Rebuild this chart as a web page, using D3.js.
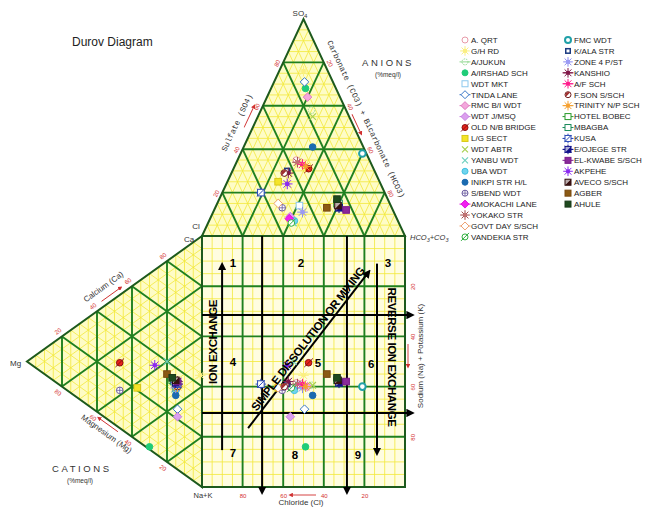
<!DOCTYPE html>
<html>
<head>
<meta charset="utf-8">
<script src="https://cdn.jsdelivr.net/npm/d3@7"></script>
<style>
  body { margin: 0; background: #fff; }
  svg { display: block; font-family: "Liberation Sans", Arial, sans-serif; }
</style>
</head>
<body>
<svg id="chart" width="660" height="507"></svg>
<script>
// ---- Sample sites and their ionic composition (% meq/l) ----
const sites = ["A. QRT","G/H RD","A/JUKUN","A/IRSHAD SCH","WDT MKT","TINDA LANE","RMC B/I WDT","WDT J/MSQ",
  "OLD N/B BRIDGE","L/G SECT","WDT ABTR","YANBU WDT","UBA WDT","INIKPI STR H/L","S/BEND WDT","AMOKACHI LANE",
  "YOKAKO STR","GOVT DAY S/SCH","VANDEKIA STR","FMC WDT","K/ALA STR","ZONE 4 P/ST","KANSHIO","A/F SCH",
  "F.SON S/SCH","TRINITY N/P SCH","HOTEL BOBEC","MBAGBA","KUSA","E/OJEGE STR","EL-KWABE S/SCH","AKPEHE",
  "AVECO S/SCH","AGBER","AHULE"];

// anions
const chloride    = [36,12,17,15,45,14,16,52,32,50,18,52,51,25,54,53,36,55,53, 2,43,45,43,34,45,33,26,25,61,26,23,46,26,32,25];
const sulfate     = [35,76,58,68,14,71,64, 9,31,25,55, 6, 7,41,13, 8,34,15, 6,38,30,11,29,33,29,32,15,15,20,13,12,24,14,13,17];
const bicarbonate = [29,12,25,17,41,15,20,39,37,25,27,42,42,34,33,39,30,30,41,60,27,44,28,33,26,35,59,60,19,61,65,30,60,55,58];
// cations
const calcium     = [34,44,33, 1,33,24,33,21,26,21,33,40,31,29,15,33,34,32,32,33,34,32,35,34,33,33,34,34,34,34,35,35,35,35,35];
const magnesium   = [15, 1,15,30,15,14,14,14,47,37,15,20,15,15,47,14,14,15,15,14,14,15,14,14,14,14,17,16,14,15,14,27,15,20,17];
const sodiumPot   = [51,55,52,69,52,62,53,65,27,42,52,40,54,56,38,53,52,53,53,53,52,53,51,52,53,53,49,50,52,51,51,38,50,45,48];

const tickValues = [20, 40, 60, 80];
const legendLeft  = sites.slice(0, 19);
const legendRight = sites.slice(19);

// ---- Marker appearance per site ----
const markerStyle = {
  "A. QRT":        {shape:"circle", stroke:"#e89aa8", fill:"#fff"},
  "G/H RD":        {shape:"burst", stroke:"#fbef80", fill:"#fbef80"},
  "A/JUKUN":       {shape:"circle", stroke:"#90d890", fill:"none", dash:true, line:true},
  "A/IRSHAD SCH":  {shape:"circle", stroke:"#1fcc78", fill:"#1fcc78"},
  "WDT MKT":       {shape:"square", stroke:"#8cc8ee", fill:"#fff"},
  "TINDA LANE":    {shape:"diamond", stroke:"#3a78c8", fill:"#fff", line:true},
  "RMC B/I WDT":   {shape:"diamond", stroke:"#e07ac0", fill:"#f3a8dc", line:true},
  "WDT J/MSQ":     {shape:"diamond", stroke:"#c67ee0", fill:"#dba0ee", line:true},
  "OLD N/B BRIDGE":{shape:"slashcircle", stroke:"#8a1010", fill:"#e8221a"},
  "L/G SECT":      {shape:"square", stroke:"#d8c818", fill:"#f4e428"},
  "WDT ABTR":      {shape:"x", stroke:"#a8d050"},
  "YANBU WDT":     {shape:"x", stroke:"#70d0c0"},
  "UBA WDT":       {shape:"circle", stroke:"#40c0e0", fill:"#70d4ee"},
  "INIKPI STR H/L":{shape:"circle", stroke:"#1a6ab0", fill:"#1a6ab0"},
  "S/BEND WDT":    {shape:"crosscircle", stroke:"#6a5aa0", fill:"#fff"},
  "AMOKACHI LANE": {shape:"diamond", stroke:"#e010e0", fill:"#f020f0", line:true},
  "YOKAKO STR":    {shape:"burst", stroke:"#a04848", fill:"#c07070"},
  "GOVT DAY S/SCH":{shape:"diamond", stroke:"#eea070", fill:"#fff", line:true},
  "VANDEKIA STR":  {shape:"slashcircle", stroke:"#30b040", fill:"#fff"},
  "FMC WDT":       {shape:"circle", stroke:"#20a0a8", fill:"#fff", sw:2},
  "K/ALA STR":     {shape:"boxin", stroke:"#1a3a80", fill:"#1a3a80"},
  "ZONE 4 P/ST":   {shape:"burst", stroke:"#8a8af0", fill:"#9a9af4"},
  "KANSHIO":       {shape:"burst", stroke:"#801848", fill:"#801848", line:true},
  "A/F SCH":       {shape:"burst", stroke:"#ff1a8c", fill:"#ff1a8c", line:true},
  "F.SON S/SCH":   {shape:"halfcircle", stroke:"#702020", fill:"#a03030"},
  "TRINITY N/P SCH":{shape:"burst", stroke:"#f5a030", fill:"#f5a030", line:true},
  "HOTEL BOBEC":   {shape:"square", stroke:"#2a9a2a", fill:"#fff", line:true},
  "MBAGBA":        {shape:"square", stroke:"#1a8a5a", fill:"#fff", line:true},
  "KUSA":          {shape:"square", stroke:"#2a4ab8", fill:"#fff", line:true, spokes:true},
  "E/OJEGE STR":   {shape:"halfsquare", stroke:"#10108a", fill:"#10108a", line:true, spokes:true},
  "EL-KWABE S/SCH":{shape:"square", stroke:"#7a1a8a", fill:"#8a2a9a", line:true},
  "AKPEHE":        {shape:"burst", stroke:"#8a2af0", fill:"#8a2af0"},
  "AVECO S/SCH":   {shape:"halfsquare", stroke:"#2a0a0a", fill:"#3a1010"},
  "AGBER":         {shape:"square", stroke:"#7a4a10", fill:"#8b5a14"},
  "AHULE":         {shape:"square", stroke:"#1a3a1a", fill:"#1e4a1e"}
};

// ---- Layout ----
const svg = d3.select("#chart");
const X0 = 202, X1 = 405, YT = 236, YB = 487, YA = 19, XM = 27;

// anion triangle: horizontal = HCO3 + SO4/2, vertical = SO4
const ax = d3.scaleLinear().domain([0, 100]).range([X0, X1]);
const ay = d3.scaleLinear().domain([0, 100]).range([YT, YA]);
// cation triangle: horizontal = Mg, vertical = Na+K + Mg/2
const cx = d3.scaleLinear().domain([0, 100]).range([X0, XM]);
const cy = d3.scaleLinear().domain([0, 100]).range([YT, YB]);
// square axes
const clScale = d3.scaleLinear().domain([100, 0]).range([X0, X1]);
const nkScale = d3.scaleLinear().domain([0, 100]).range([YT, YB]);

const A = (s, h) => [ax(h + s / 2), ay(s)];
const C = (m, n) => [cx(m), cy(n + m / 2)];

const FILL = "#fefcc6", MINOR = "#f3e83a", MAJOR = "#1f801f", EDGE = "#1d5a1d";
const steps = d3.range(5, 100, 5);
const isMajor = v => v % 20 === 0;
const line = d3.line();

const gridG = svg.append("g");
// backgrounds
gridG.append("path").attr("d", line([A(0,0), A(100,0), A(0,100)]) + "Z").attr("fill", FILL);
gridG.append("path").attr("d", line([C(0,0), C(100,0), C(0,100)]) + "Z").attr("fill", FILL);
gridG.append("rect").attr("x", X0).attr("y", YT).attr("width", X1 - X0).attr("height", YB - YT).attr("fill", "#fffde0");

function segs(kind) {
  const out = [];
  steps.forEach(v => {
    if (kind === "anion") {
      out.push({v, p: [A(v, 0), A(v, 100 - v)]});
      out.push({v, p: [A(0, v), A(100 - v, v)]});
      out.push({v, p: [A(0, 100 - v), A(100 - v, 0)]});
    } else if (kind === "cation") {
      out.push({v, p: [C(v, 0), C(v, 100 - v)]});
      out.push({v, p: [C(0, v), C(100 - v, v)]});
      out.push({v, p: [C(0, 100 - v), C(100 - v, 0)]});
    } else {
      out.push({v, p: [[ax(v), YT], [ax(v), YB]]});
      out.push({v, p: [[X0, cy(v)], [X1, cy(v)]]});
    }
  });
  return out;
}
const allSegs = [...segs("anion"), ...segs("cation"), ...segs("square")];
gridG.selectAll(".minor").data(allSegs.filter(d => !isMajor(d.v))).join("path")
  .attr("d", d => line(d.p)).attr("stroke", MINOR).attr("stroke-width", 0.8).attr("fill", "none");
gridG.selectAll(".major").data(allSegs.filter(d => isMajor(d.v))).join("path")
  .attr("d", d => line(d.p)).attr("stroke", MAJOR).attr("stroke-width", 1.9).attr("fill", "none");
// outlines
gridG.append("path").attr("d", line([A(0,0), A(100,0), A(0,100)]) + "Z").attr("fill", "none").attr("stroke", EDGE).attr("stroke-width", 2);
gridG.append("path").attr("d", line([C(0,0), C(100,0), C(0,100)]) + "Z").attr("fill", "none").attr("stroke", EDGE).attr("stroke-width", 2);
gridG.append("rect").attr("x", X0).attr("y", YT).attr("width", X1 - X0).attr("height", YB - YT)
  .attr("fill", "none").attr("stroke", EDGE).attr("stroke-width", 2);

// ---- Arrowhead defs ----
const defs = svg.append("defs");
function arrowDef(id, color, size) {
  defs.append("marker").attr("id", id).attr("viewBox", "0 0 10 10").attr("refX", 2).attr("refY", 5)
    .attr("markerWidth", size).attr("markerHeight", size).attr("orient", "auto")
    .append("path").attr("d", "M0,0 L10,5 L0,10 Z").attr("fill", color);
}
arrowDef("ah", "#000", 4.2);
arrowDef("ahr", "#d03030", 5);

// ---- Tick labels on the triangle edges and square ----
const tickG = svg.append("g").attr("fill", "#d43030").attr("font-size", 6).attr("text-anchor", "middle");
const angL = Math.atan2(YA - YT, (X1 - X0) / 2) * 180 / Math.PI;   // top-left edge
const angC = Math.atan2(YT - cy(50), X0 - XM) * 180 / Math.PI;     // cation upper edge
tickValues.forEach(v => {
  let p = A(v, 0);
  tickG.append("text").attr("transform", `translate(${p[0] - 6},${p[1] + 1}) rotate(${angL})`).attr("dy", "0.35em").text(v);
  p = A(100 - v, v);
  tickG.append("text").attr("transform", `translate(${p[0] + 6},${p[1] + 1}) rotate(${-angL})`).attr("dy", "0.35em").text(v);
  p = C(100 - v, 0);
  tickG.append("text").attr("transform", `translate(${p[0] - 4},${p[1] - 5}) rotate(${angC})`).attr("dy", "0.35em").text(v);
  p = C(v, 100 - v);
  tickG.append("text").attr("transform", `translate(${p[0] - 4},${p[1] + 6}) rotate(${-angC})`).attr("dy", "0.35em").text(v);
});

// square axes built from d3 axis generators
const bottomAxis = svg.append("g").attr("transform", `translate(0,${YB + 4})`)
  .call(d3.axisBottom(clScale).tickValues(tickValues).tickSize(0).tickPadding(3));
bottomAxis.select(".domain").remove();
bottomAxis.selectAll("text").attr("fill", "#d43030").attr("font-size", 6).attr("font-family", "Liberation Sans, Arial");
const rightAxis = svg.append("g").attr("transform", `translate(${X1 + 2},0)`)
  .call(d3.axisRight(nkScale).tickValues(tickValues).tickSize(0).tickPadding(3));
rightAxis.select(".domain").remove();
rightAxis.selectAll("text").attr("fill", "#d43030").attr("font-size", 6).attr("font-family", "Liberation Sans, Arial")
  .attr("text-anchor", "middle").attr("transform", "rotate(-90) translate(0,6)").attr("x", 0).attr("dy", "0.35em");

// ---- Axis titles ----
const titleG = svg.append("g").attr("fill", "#333");
function rotText(x, y, ang, txt, opts = {}) {
  const t = titleG.append("text").attr("transform", `translate(${x},${y}) rotate(${ang})`)
    .attr("font-size", opts.size || 8).attr("text-anchor", opts.anchor || "start")
    .attr("font-family", opts.family || "Liberation Sans, Arial").text(txt);
  if (opts.spacing) t.attr("letter-spacing", opts.spacing);
  return t;
}
function redArrow(x, y, ang, x1, x2, dy) {
  svg.append("line").attr("transform", `translate(${x},${y}) rotate(${ang})`)
    .attr("x1", x1).attr("x2", x2).attr("y1", dy).attr("y2", dy)
    .attr("stroke", "#d03030").attr("stroke-width", 0.9).attr("marker-end", "url(#ahr)");
}
rotText(226, 152, angL, "Sulfate (SO4)", {family: "Liberation Mono, monospace", size: 8});
redArrow(226, 152, angL, 30, 52, 6);
rotText(327, 42, -angL, "Carbonate (CO3) + Bicarbonate (HCO3)", {family: "Liberation Mono, monospace", size: 8});
redArrow(327, 42, -angL, 76, 96, 8);
rotText(105, 289, angC, "Calcium (Ca)", {anchor: "middle"});
redArrow(105, 289, angC, -10, 12, 8);
rotText(105, 436, -angC, "Magnesium (Mg)", {anchor: "middle"});
redArrow(105, 436, -angC, 8, -14, -11);
rotText(423, 356, -90, "Sodium (Na) + Potassium (K)", {anchor: "middle"});
redArrow(408, 344, 90, 0, 21, 0);
rotText(301, 505, 0, "Chloride (Cl)", {anchor: "middle"});
redArrow(316, 495, 180, 0, 24, 0);

// vertex labels
const vG = svg.append("g").attr("fill", "#333").attr("font-size", 8);
const so4 = vG.append("text").attr("x", 300).attr("y", 16).attr("text-anchor", "middle");
so4.append("tspan").text("SO"); so4.append("tspan").attr("font-size", 6).attr("dy", 1.5).text("4");
vG.append("text").attr("x", 196).attr("y", 229).attr("text-anchor", "middle").text("Cl");
vG.append("text").attr("x", 189).attr("y", 242).attr("text-anchor", "middle").text("Ca");
vG.append("text").attr("x", 10).attr("y", 366).text("Mg");
vG.append("text").attr("x", 203).attr("y", 498).attr("text-anchor", "middle").attr("font-size", 7.5).text("Na+K");
const hco = vG.append("text").attr("x", 410).attr("y", 240).attr("font-style", "italic").attr("font-size", 7.5);
hco.append("tspan").text("HCO"); hco.append("tspan").attr("font-size", 5.5).attr("dy", 1.5).text("3");
hco.append("tspan").attr("dy", -1.5).text("+CO"); hco.append("tspan").attr("font-size", 5.5).attr("dy", 1.5).text("3");

svg.append("text").attr("x", 72).attr("y", 46).attr("font-size", 12).attr("fill", "#222").text("Durov Diagram");
svg.append("text").attr("x", 362).attr("y", 66).attr("font-size", 9.5).attr("letter-spacing", 2.6).attr("fill", "#333").text("ANIONS");
svg.append("text").attr("x", 388).attr("y", 77).attr("font-size", 6.5).attr("text-anchor", "middle").attr("fill", "#333").text("(%meq/l)");
svg.append("text").attr("x", 52).attr("y", 472).attr("font-size", 9.5).attr("letter-spacing", 2.6).attr("fill", "#333").text("CATIONS");
svg.append("text").attr("x", 80).attr("y", 483).attr("font-size", 6.5).attr("text-anchor", "middle").attr("fill", "#333").text("(%meq/l)");

// ---- Process arrows in the square (drawn under the points) ----
const procG = svg.append("g").attr("stroke", "#000").attr("stroke-width", 2);
function procLine(x1, y1, x2, y2, head) {
  const l = procG.append("line").attr("x1", ax(x1)).attr("y1", cy(y1)).attr("x2", ax(x2)).attr("y2", cy(y2));
  if (head) l.attr("marker-end", "url(#ah)");
}
procLine(29.6, 0, 29.6, 100.5, true);
procLine(71.4, 0, 71.4, 100.5, true);
procLine(0, 31.5, 101.5, 31.5, true);
procLine(0, 70.5, 101.5, 70.5, true);
procLine(9.9, 85.3, 9.9, 13, true);
procLine(86.2, 11, 86.2, 85, true);
procLine(22.7, 76.5, 81, 15.5, true);

// ---- Marker drawing ----
function drawMarker(g, st, r, legend) {
  const sw = st.sw || 1;
  if (legend && st.line) {
    g.append("line").attr("x1", -r - 2.5).attr("x2", r + 2.5).attr("stroke", st.stroke).attr("stroke-width", 1);
  }
  const spokes = (len) => {
    d3.range(8).forEach(i => {
      const a = i * Math.PI / 4;
      g.append("line").attr("x2", Math.cos(a) * len).attr("y2", Math.sin(a) * len)
        .attr("stroke", st.stroke).attr("stroke-width", 1);
    });
  };
  switch (st.shape) {
    case "circle":
      g.append("circle").attr("r", r).attr("fill", st.fill).attr("stroke", st.stroke).attr("stroke-width", sw)
        .attr("stroke-dasharray", st.dash ? "1.5,1" : null);
      break;
    case "square":
      if (st.spokes) spokes(r * 1.6);
      g.append("rect").attr("x", -r).attr("y", -r).attr("width", 2 * r).attr("height", 2 * r)
        .attr("fill", st.fill).attr("stroke", st.stroke).attr("stroke-width", sw);
      if (st.spokes) { g.append("line").attr("x1", -r).attr("y1", r).attr("x2", r).attr("y2", -r).attr("stroke", st.stroke); }
      break;
    case "diamond":
      g.append("path").attr("d", `M0,${-r - 1}L${r + 1},0L0,${r + 1}L${-r - 1},0Z`)
        .attr("fill", st.fill).attr("stroke", st.stroke).attr("stroke-width", sw);
      break;
    case "burst":
      spokes(r * 1.6);
      g.append("circle").attr("r", r * 0.7).attr("fill", st.fill);
      break;
    case "x":
      g.append("path").attr("d", `M${-r},${-r}L${r},${r}M${-r},${r}L${r},${-r}`).attr("stroke", st.stroke).attr("stroke-width", 1.2);
      break;
    case "slashcircle":
      g.append("circle").attr("r", r).attr("fill", st.fill).attr("stroke", st.stroke).attr("stroke-width", sw);
      g.append("line").attr("x1", -r - 1).attr("y1", r + 1).attr("x2", r + 1).attr("y2", -r - 1).attr("stroke", st.stroke);
      break;
    case "crosscircle":
      g.append("circle").attr("r", r).attr("fill", st.fill).attr("stroke", st.stroke).attr("stroke-width", sw);
      g.append("path").attr("d", `M${-r},0H${r}M0,${-r}V${r}`).attr("stroke", st.stroke).attr("stroke-width", 0.8);
      break;
    case "halfcircle":
      g.append("circle").attr("r", r).attr("fill", "#fff").attr("stroke", st.stroke).attr("stroke-width", sw);
      g.append("path").attr("d", `M${-r * 0.7},${r * 0.7}A${r},${r} 0 0 1 ${r * 0.7},${-r * 0.7}Z`).attr("fill", st.fill);
      break;
    case "boxin":
      g.append("rect").attr("x", -r).attr("y", -r).attr("width", 2 * r).attr("height", 2 * r).attr("fill", st.fill);
      g.append("rect").attr("x", -r / 2).attr("y", -r / 2).attr("width", r).attr("height", r).attr("fill", "#fff");
      break;
    case "halfsquare":
      if (st.spokes) spokes(r * 1.6);
      g.append("rect").attr("x", -r).attr("y", -r).attr("width", 2 * r).attr("height", 2 * r)
        .attr("fill", "#fff").attr("stroke", st.stroke).attr("stroke-width", sw);
      g.append("path").attr("d", `M${-r},${r}L${r},${-r}L${r},${r}Z`).attr("fill", st.fill);
      g.append("path").attr("d", `M${-r},${-r}L${r},${-r}L${-r},${r}Z`).attr("fill", st.fill).attr("opacity", 0.35);
      break;
  }
}

// ---- Data points: anion triangle, cation triangle and the projected square ----
const samples = sites.map((name, i) => ({
  name, cl: chloride[i], so4: sulfate[i], hco3: bicarbonate[i],
  ca: calcium[i], mg: magnesium[i], nak: sodiumPot[i]
}));
const ptG = svg.append("g");
samples.forEach(d => {
  const st = markerStyle[d.name];
  const pa = A(d.so4, d.hco3);
  const pc = C(d.mg, d.nak);
  [pa, pc, [pa[0], pc[1]]].forEach(p => {
    drawMarker(ptG.append("g").attr("transform", `translate(${p[0]},${p[1]})`), st, 3.3, false);
  });
});

// ---- Process labels (on top) ----
const lblG = svg.append("g").attr("font-weight", "bold").attr("fill", "#000").attr("font-size", 11.5)
  .attr("text-anchor", "middle").attr("font-family", "Liberation Sans, Arial");
[["1",15.3,10.8],["2",48.8,10.8],["3",91.6,10.8],["4",15.3,50.2],["5",57.1,50.6],["6",83.3,51],
 ["7",15.3,86.5],["8",45.8,87.3],["9",76.8,87.3]].forEach(([t, x, y]) => {
  lblG.append("text").attr("x", ax(x)).attr("y", cy(y)).attr("dy", "0.35em").text(t);
});
const bigG = svg.append("g").attr("font-weight", "bold").attr("fill", "#000").attr("font-size", 11.5)
  .attr("text-anchor", "middle").attr("font-family", "Liberation Sans, Arial").attr("letter-spacing", -0.4);
bigG.append("text").attr("transform", `translate(${ax(5.4)},${cy(42.2)}) rotate(-90)`).attr("dy", "0.35em").text("ION EXCHANGE");
bigG.append("text").attr("transform", `translate(${ax(93.6)},${cy(48.2)}) rotate(90)`).attr("dy", "0.35em").text("REVERSE ION EXCHANGE");
const diagAng = Math.atan2(cy(15.5) - cy(76.5), ax(81) - ax(22.7)) * 180 / Math.PI;
bigG.append("text").attr("transform", `translate(${ax(52.2)},${cy(41)}) rotate(${diagAng})`).attr("dy", "0.35em")
  .text("SIMPLE DISSOLUTION OR MIXING");

// ---- Legend ----
const legG = svg.append("g").attr("font-size", 8).attr("fill", "#222");
const step = 10.94;
function legendColumn(names, mx, tx, y0) {
  names.forEach((n, i) => {
    const y = y0 + i * step;
    drawMarker(legG.append("g").attr("transform", `translate(${mx},${y})`), markerStyle[n], 3, true);
    legG.append("text").attr("x", tx).attr("y", y).attr("dy", "0.35em").text(n);
  });
}
legendColumn(legendLeft, 465, 471, 40);
legendColumn(legendRight, 568, 574, 40);
</script>
</body>
</html>
